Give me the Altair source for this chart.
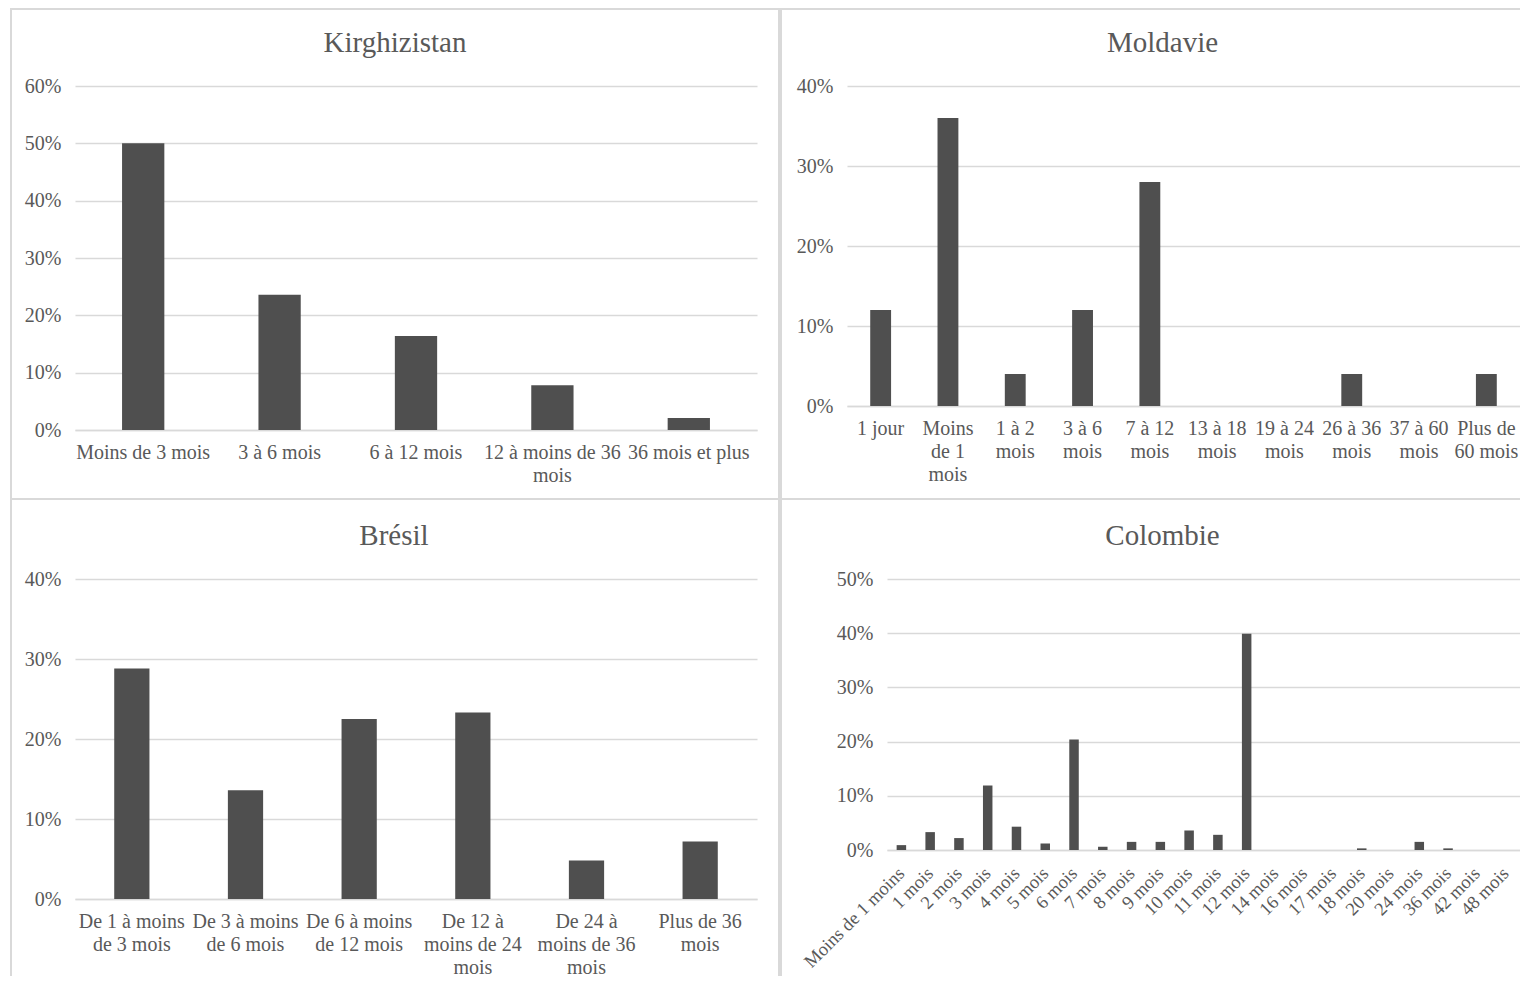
import json
import altair as alt
import pandas as pd

FONT = "Liberation Serif"
BAR = "#4f4f4f"
GRID = "#d9d9d9"
TXT = "#595959"

# ---------------- data ----------------
kg_title = "Kirghizistan"
kg_cats = ["Moins de 3 mois", "3 à 6 mois", "6 à 12 mois", "12 à moins de 36 mois", "36 mois et plus"]
kg_lines = [["Moins de 3 mois"], ["3 à 6 mois"], ["6 à 12 mois"], ["12 à moins de 36", "mois"], ["36 mois et plus"]]
kg_vals = [0.500, 0.236, 0.164, 0.078, 0.021]

md_title = "Moldavie"
md_cats = ["1 jour", "Moins de 1 mois", "1 à 2 mois", "3 à 6 mois", "7 à 12 mois",
           "13 à 18 mois", "19 à 24 mois", "26 à 36 mois", "37 à 60 mois", "Plus de 60 mois"]
md_lines = [["1 jour"], ["Moins", "de 1", "mois"], ["1 à 2", "mois"], ["3 à 6", "mois"], ["7 à 12", "mois"],
            ["13 à 18", "mois"], ["19 à 24", "mois"], ["26 à 36", "mois"], ["37 à 60", "mois"], ["Plus de", "60 mois"]]
md_vals = [0.12, 0.36, 0.04, 0.12, 0.28, 0.0, 0.0, 0.04, 0.0, 0.04]

br_title = "Brésil"
br_cats = ["De 1 à moins de 3 mois", "De 3 à moins de 6 mois", "De 6 à moins de 12 mois",
           "De 12 à moins de 24 mois", "De 24 à moins de 36 mois", "Plus de 36 mois"]
br_lines = [["De 1 à moins", "de 3 mois"], ["De 3 à moins", "de 6 mois"], ["De 6 à moins", "de 12 mois"],
            ["De 12 à", "moins de 24", "mois"], ["De 24 à", "moins de 36", "mois"], ["Plus de 36", "mois"]]
br_vals = [0.288, 0.136, 0.225, 0.233, 0.048, 0.072]

co_title = "Colombie"
co_cats = ["Moins de 1 moins", "1 mois", "2 mois", "3 mois", "4 mois", "5 mois", "6 mois", "7 mois",
           "8 mois", "9 mois", "10 mois", "11 mois", "12 mois", "14 mois", "16 mois", "17 mois",
           "18 mois", "20 mois", "24 mois", "36 mois", "42 mois", "48 mois"]
co_vals = [0.009, 0.033, 0.022, 0.119, 0.043, 0.012, 0.204, 0.006, 0.015, 0.015, 0.036, 0.028,
           0.399, 0.0, 0.0, 0.0, 0.003, 0.0, 0.015, 0.003, 0.0, 0.0]

LBL = 20


def border(x1, x2, y1, y2):
    # thin filled rectangle used as the panel frame
    return alt.Chart(pd.DataFrame({"k": [0]})).mark_rect(color=GRID, strokeWidth=0).encode(
        x=alt.value(x1), x2=alt.value(x2), y=alt.value(y1), y2=alt.value(y2))


def panel(title, cats, vals, lines, ymax, w, h, frame, dx, toff, rotate=False, pad=0.69, lh=23, lp=12):
    df = pd.DataFrame({"cat": cats, "val": vals})
    if rotate:
        xaxis = alt.Axis(labelAngle=315, labelAlign="right", labelBaseline="middle", labelPadding=20,
                         labelFont=FONT, labelFontSize=18.5, labelColor=TXT, ticks=False,
                         domain=True, domainColor=GRID, domainWidth=1.5, labelLimit=400,
                         labelOverlap=False, grid=False)
    else:
        expr = "%s[indexof(%s, datum.value)]" % (json.dumps(lines, ensure_ascii=False),
                                                 json.dumps(cats, ensure_ascii=False))
        xaxis = alt.Axis(labelExpr=expr, labelAngle=0, labelAlign="center", labelBaseline="top",
                         labelPadding=lp, labelLineHeight=lh, labelFont=FONT, labelFontSize=LBL,
                         labelColor=TXT, ticks=False, domain=True, domainColor=GRID, domainWidth=1.5,
                         labelLimit=400, labelOverlap=False, grid=False)
    ticks = [i / 10 for i in range(int(round(ymax * 10)) + 1)]
    bars = alt.Chart(df).mark_bar(color=BAR).encode(
        x=alt.X("cat:N", sort=cats, title=None,
                scale=alt.Scale(paddingInner=pad, paddingOuter=pad / 2), axis=xaxis),
        y=alt.Y("val:Q", title=None, scale=alt.Scale(domain=[0, ymax], nice=False),
                axis=alt.Axis(values=ticks, format=".0%", grid=True, gridColor=GRID, gridWidth=1.5,
                              domain=False, ticks=False, labelPadding=14, labelFont=FONT,
                              labelFontSize=LBL, labelColor=TXT)),
    )
    layers = [bars] + [border(*f) for f in frame]
    return alt.layer(*layers).properties(
        width=w, height=h,
        title=alt.TitleParams(title, font=FONT, fontSize=29, fontWeight="normal", color=TXT,
                              anchor="middle", frame="group", dx=dx, offset=toff),
    )


TRW = 673
BRW = 633

tl = panel(kg_title, kg_cats, kg_vals, kg_lines, 0.6, 682, 344,
           [(-65, -63, -78, 414), (-65, 705, -78, -76), (703, 705, -78, 414), (-65, 705, 412, 414)],
           -21, -50)
tr = panel(md_title, md_cats, md_vals, md_lines, 0.4, TRW, 320,
           [(-67, -65, -78, 414), (-67, TRW, -78, -76), (-67, TRW, 412, 414)],
           -21, -50)
bl = panel(br_title, br_cats, br_vals, br_lines, 0.4, 682, 320,
           [(-65, -63, -79, 397), (703, 705, -79, 397)],
           -22, -51, lh=23, lp=12)
br = panel(co_title, co_cats, co_vals, None, 0.5, BRW, 271,
           [(-107, -105, -79, 397)],
           -41, -51, rotate=True, pad=0.67)

chart = alt.vconcat(
    alt.hconcat(tl, tr, spacing=0),
    alt.hconcat(bl, br, spacing=0),
    spacing=0,
).properties(
    padding={"left": 2, "top": 0, "right": 0, "bottom": 0},
    background="white",
).configure_view(strokeWidth=0, stroke=None)

chart.save("out.html", embed_options={"renderer": "svg", "actions": False})
